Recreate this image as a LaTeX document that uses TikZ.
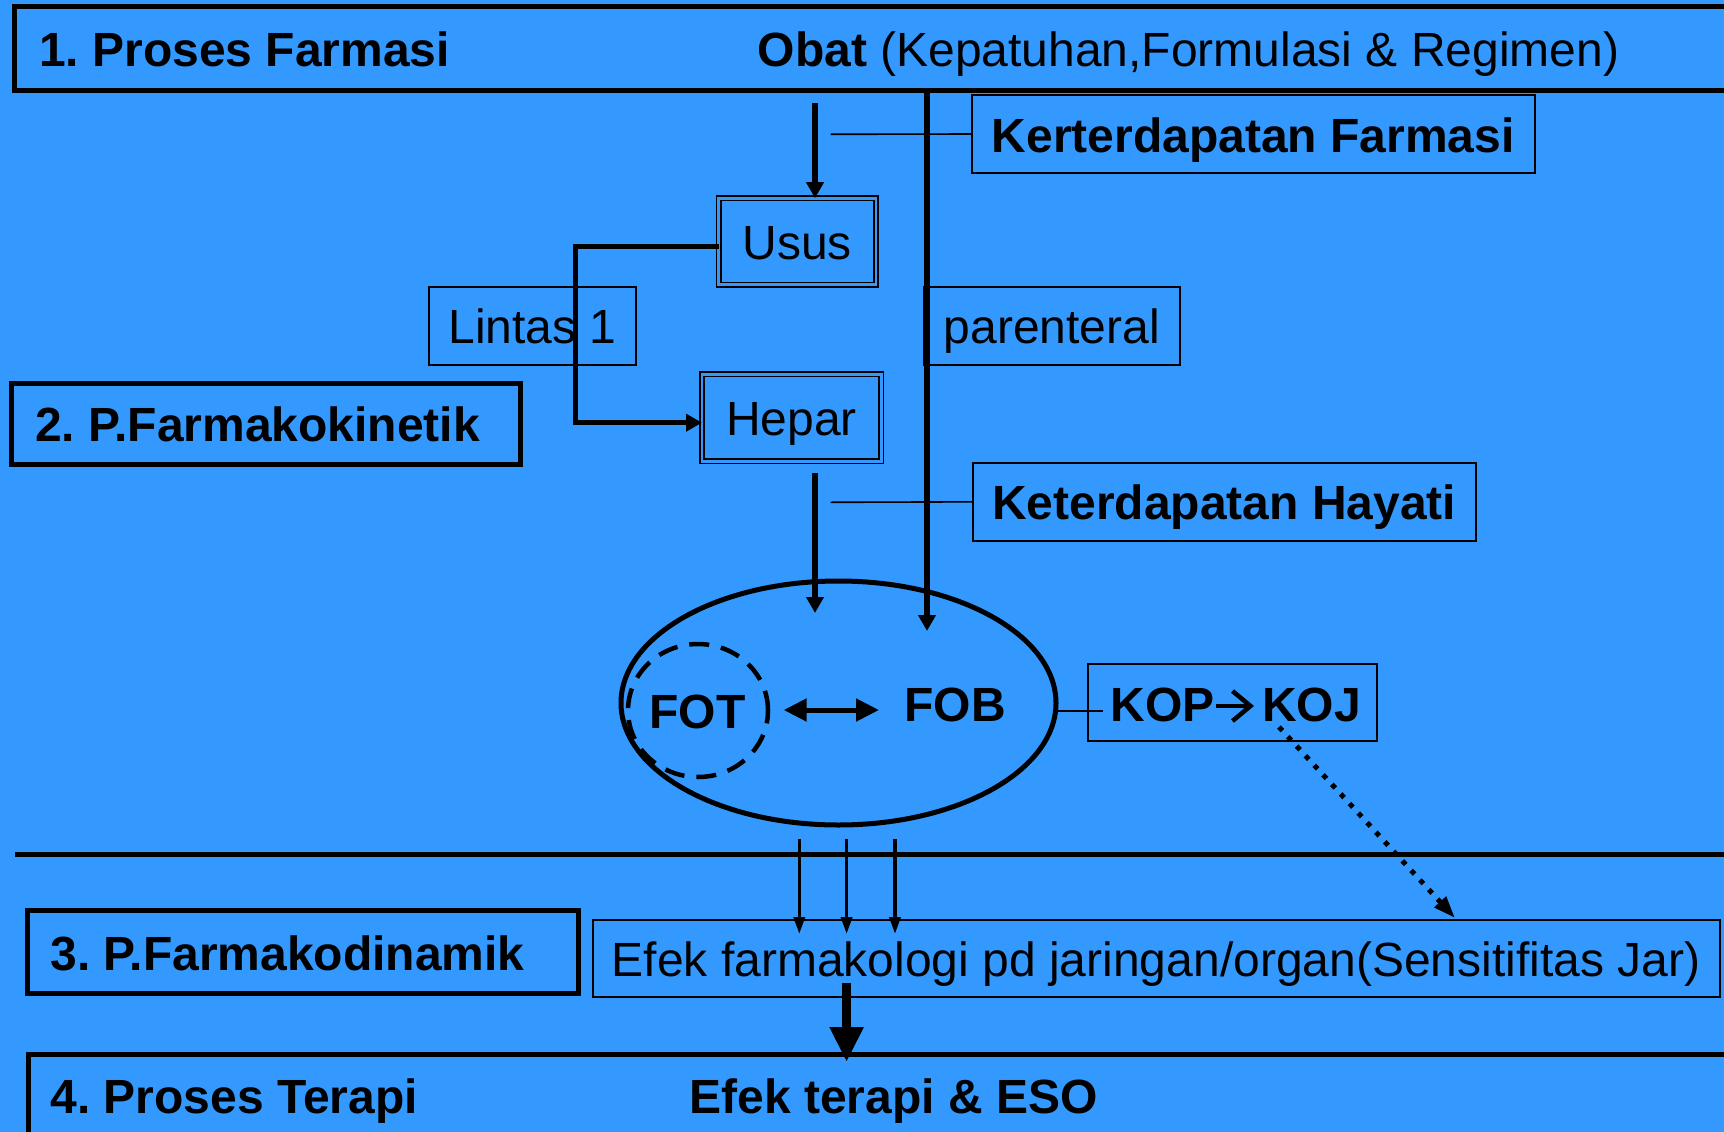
\documentclass[tikz,border=0pt]{standalone}
\usepackage{fontspec}
\setmainfont{Liberation Sans}
\usetikzlibrary{arrows.meta,shapes.geometric}
\definecolor{bgblue}{RGB}{51,153,255}
\frenchspacing

\begin{document}
\begin{tikzpicture}[x=1pt,y=-1pt,
  every node/.style={font=\fontsize{48}{58}\selectfont, inner sep=0pt, outer sep=0pt,
                     text height=40.8pt, text depth=4.8pt},
  heavybox/.style={draw, line width=5pt, anchor=north west},
  thinbox/.style={draw, line width=2pt, anchor=north west},
  dblbox/.style={draw, line width=1.7pt, double=bgblue, double distance=2.6pt, anchor=north west},
  arr/.style={-{Triangle[length=16pt,width=17pt]}, line width=5.2pt},
  smallarr/.style={-{Triangle[length=17pt,width=11pt]}, line width=3.5pt},
  bigarr/.style={-{Triangle[length=35pt,width=32pt]}, line width=8.5pt},
  twoway/.style={{Triangle[length=23pt,width=22pt]}-{Triangle[length=23pt,width=22pt]}, line width=5pt},
  dotarr/.style={-{Triangle[length=22pt,width=15pt]}, line width=5pt, dash pattern=on 5pt off 8pt},
  chevron/.style={-{Straight Barb[length=18pt,width=30pt]}, line width=4.5pt},
  leader/.style={line width=1.6pt}
]
\useasboundingbox (0,0) rectangle (1724,1132);
\clip (0,0) rectangle (1724,1132);
\fill[bgblue] (0,0) rectangle (1724,1132);

% --- stage 1: pharmaceutical phase
\node[heavybox, minimum width=1725.5pt, minimum height=83.5pt] (farm) at (14.5,6.5) {};
\node[anchor=base west] (t1) at (39,66.7) {\bfseries 1. Proses Farmasi};
\node[anchor=base west] (obat) at (757.7,66.7) {\bfseries Obat\mdseries{} (Kepatuhan,Formulasi \& Regimen)};

\node[thinbox, minimum width=562.6pt, minimum height=78pt] (kf) at (972,95) {\bfseries Kerterdapatan Farmasi};

% --- organs
\node[dblbox, minimum width=157.2pt, minimum height=86.5pt] (usus) at (718.6,198.2) {Usus};
\node[dblbox, minimum width=179.2pt, minimum height=87pt] (hepar) at (702,374.2) {Hepar};
\node[thinbox, minimum width=207pt, minimum height=77.7pt] (lintas) at (429,287) {Lintas 1};
\node[thinbox, minimum width=255.5pt, minimum height=77.7pt] (par) at (924,287) {parenteral};

% --- stage 2: pharmacokinetic phase
\node[heavybox, minimum width=509pt, minimum height=80.7pt] (pk) at (11.5,383.5)
  {\makebox[461.6pt][l]{\bfseries 2. P.Farmakokinetik}};
\node[thinbox, minimum width=503pt, minimum height=77.7pt] (kh) at (972.6,463) {\bfseries Keterdapatan Hayati};

% --- systemic circulation
\node[draw, ellipse, line width=5pt, minimum width=435pt, minimum height=244pt] (ell) at (838.5,703) {};
\node[draw, ellipse, line width=4.5pt, dash pattern=on 20pt off 12pt,
      minimum width=140pt, minimum height=133pt] (ring) at (698,710.5) {};
\node[anchor=base west] (fot) at (649.5,728) {\bfseries FOT};
\node[anchor=base west] (fob) at (904.6,721) {\bfseries FOB};
\node[thinbox, minimum width=289pt, minimum height=77.3pt] (kop) at (1088,663.7) {};
\node[anchor=base west] (kopL) at (1110.8,721) {\bfseries KOP};
\node[anchor=base west] (kopR) at (1262,721) {\bfseries KOJ};
\draw[chevron, shorten <=1pt, shorten >=8pt] ([yshift=-3pt]kopL.east) -- ([yshift=-3pt]kopR.west);

% --- stage 3: pharmacodynamic phase
\node[heavybox, minimum width=550.6pt, minimum height=83pt] (pd) at (27.9,910.5)
  {\makebox[505.2pt][l]{\bfseries 3. P.Farmakodinamik}};
\node[thinbox, minimum width=1127.2pt, minimum height=77.3pt] (efek) at (592.5,919.7)
  {Efek farmakologi pd jaringan/organ(Sensitifitas Jar)};

% --- stage 4: therapeutic phase
\node[heavybox, minimum width=1712pt, minimum height=100pt] (ter) at (28,1054.5) {};
\node[anchor=base west] (t4) at (50.6,1113) {\bfseries 4. Proses Terapi};
\node[anchor=base west] (eso) at (689.4,1113) {\bfseries Efek terapi \& ESO};

% --- connectors
\coordinate (oralTop) at (815,103);
\draw[arr] (oralTop) -- (oralTop |- usus.north);

\coordinate (lpTop) at (575,246.7);
\coordinate (lpBot) at (575,422.7);
\draw[arr, line width=5pt] (usus.west |- lpTop) -- (lpTop) -- (lpBot) -- (hepar.west |- lpBot);

\coordinate (hepOut) at (815,473);
\coordinate (ellInA) at (815,613);
\draw[arr] (hepOut) -- (ellInA);

\coordinate (ellInB) at (927,631);
\draw[arr, line width=6pt] (farm.south -| ellInB) -- (ellInB);

\coordinate (kfLead) at (830.7,134.3);
\draw[leader] (kfLead) -- (kf.west);
\coordinate (khLead) at (830.7,502.3);
\draw[leader] (khLead) -- (kh.west);

\draw[twoway, shorten <=38.2pt, shorten >=25.6pt] (fot.east) -- (fot.east -| fob.west);

\coordinate (kopIn) at (1102.5,710.7);
\draw[leader] (ell.east |- kopIn) -- (kopIn);

\coordinate (dotS) at (1279,727);
\coordinate (dotE) at (1455,918);
\draw[dotarr] (dotS) -- (dotE);

\coordinate (sepL) at (15,854.5);
\coordinate (sepR) at (1740,854.5);
\draw[line width=5pt] (sepL) -- (sepR);

\foreach \x [count=\i] in {799.3,846.6,895} {
  \coordinate (dn\i) at (\x,839);
  \draw[smallarr] (dn\i) -- (\x,934);
}

\coordinate (efOut) at (846.6,983);
\draw[bigarr] (efOut) -- (efOut |- 0,1062);
\end{tikzpicture}
\end{document}
